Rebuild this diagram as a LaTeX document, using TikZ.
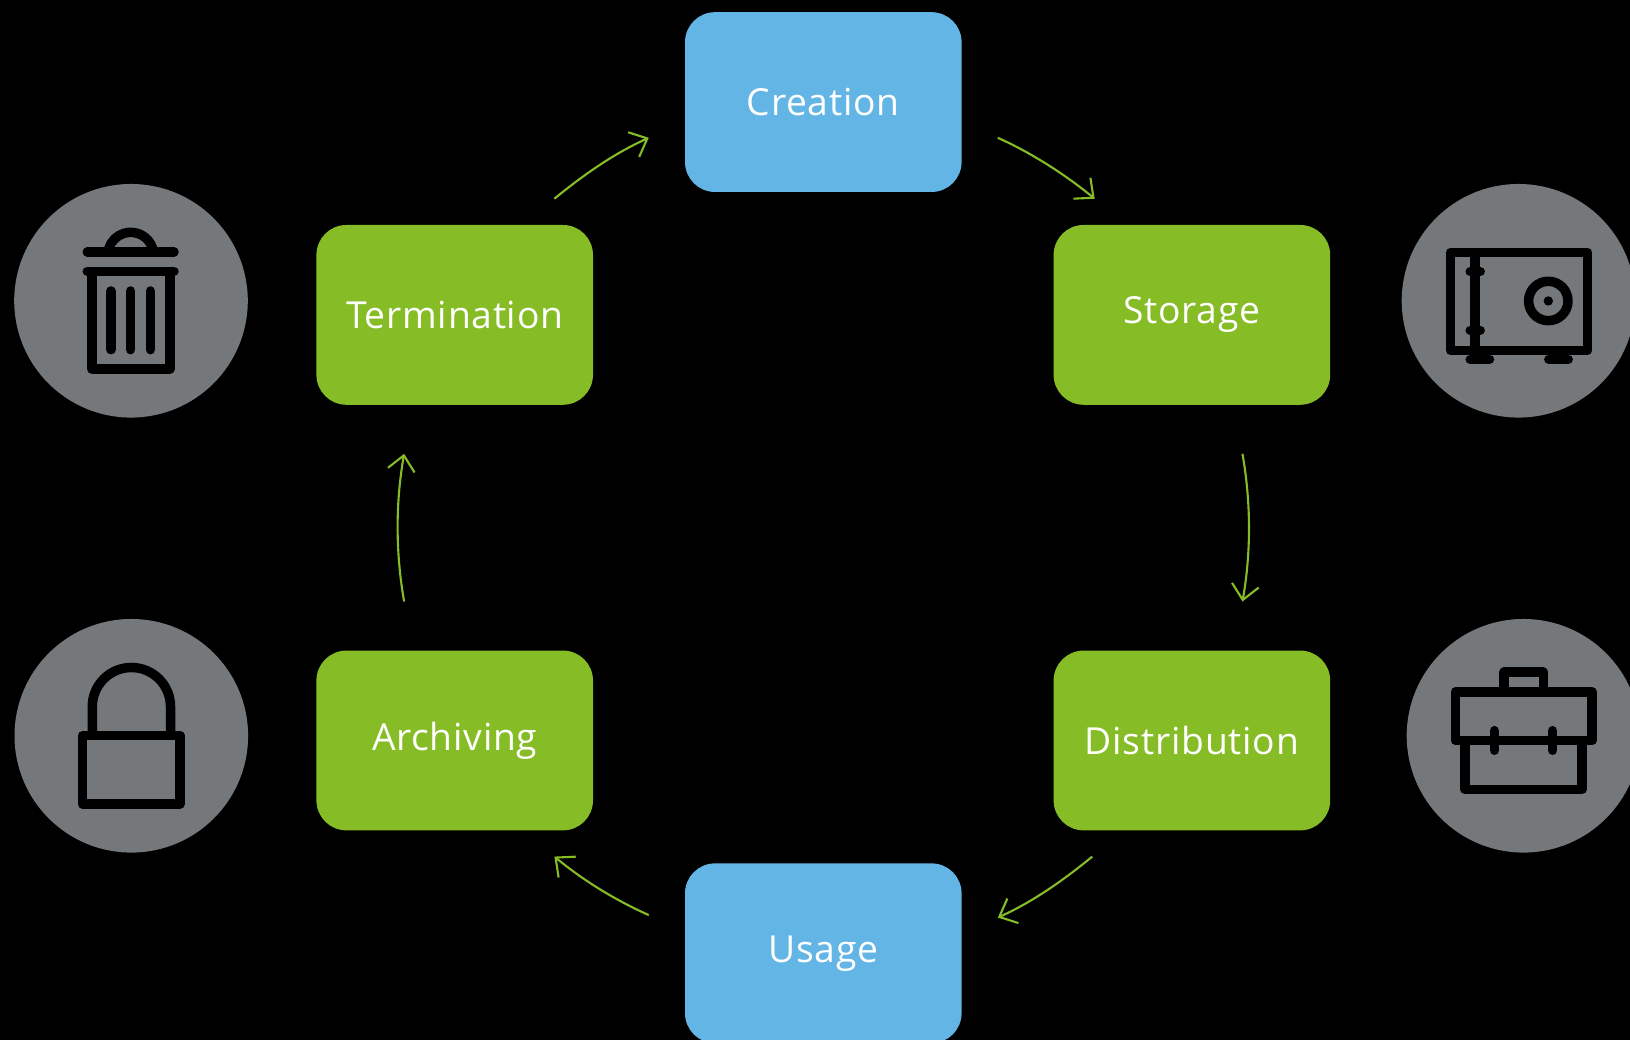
\documentclass[tikz,border=0pt]{standalone}
\usepackage{fontspec}
\setmainfont{Open Sans}[LetterSpace=2]
\usepackage{xcolor}
\usetikzlibrary{arrows.meta,positioning,shapes}
\definecolor{stagegreen}{HTML}{86BC25}
\definecolor{stageblue}{HTML}{62B5E5}
\definecolor{icongray}{HTML}{75787B}
\tikzset{
	stagebox/.style={rectangle, rounded corners=0.3cm, minimum width=2.766cm, minimum height=1.798cm, inner sep=0pt, outer sep=0pt, text=white, font=\fontsize{10.6}{13}\selectfont},
	greenbox/.style={stagebox, fill=stagegreen},
	bluebox/.style={stagebox, fill=stageblue},
	iconback/.style={circle, fill=icongray, minimum size=2.336cm, inner sep=0pt, outer sep=0pt},
	iconline/.style={draw=black, line width=0.095cm, line join=round},
	iconbar/.style={iconline, line cap=round},
	flow/.style={draw=stagegreen, line width=0.6pt, -{Straight Barb[length=0.15cm, width=0.27cm]}},
}

\begin{document}
\begin{tikzpicture}
	\useasboundingbox (0, 0) rectangle (16.3, 10.4);
	\fill[black] (0, 0) rectangle (16.3, 10.4);

	\node[bluebox] (creation) at (8.233, 9.379) {Creation};
	\node[greenbox] (storage) at (11.919, 7.251) {Storage};
	\node[greenbox] (distribution) at (11.919, 2.995) {Distribution};
	\node[bluebox] (usage) at (8.233, 0.867) {Usage};
	\node[greenbox] (archiving) at (4.547, 2.995) {Archiving};
	\node[greenbox] (termination) at (4.547, 7.251) {Termination};

	\draw[flow, shorten <=0.397cm, shorten >=0.413cm] (creation.-8.7) to[out=-24.2, in=140.6, out distance=0.774cm, in distance=0.79cm] (storage.126.5);
	\draw[flow, shorten <=0.498cm, shorten >=0.498cm] (storage.-65) to[out=-80, in=80, out distance=0.994cm, in distance=0.994cm] (distribution.65);
	\draw[flow, shorten <=0.413cm, shorten >=0.397cm] (distribution.233.5) to[out=219.4, in=24.2, out distance=0.79cm, in distance=0.774cm] (usage.8.7);
	\draw[flow, shorten <=0.397cm, shorten >=0.413cm] (usage.171.3) to[out=155.8, in=320.6, out distance=0.774cm, in distance=0.79cm] (archiving.-53.5);
	\draw[flow, shorten <=0.498cm, shorten >=0.498cm] (archiving.115) to[out=100, in=260, out distance=0.994cm, in distance=0.994cm] (termination.245);
	\draw[flow, shorten <=0.413cm, shorten >=0.397cm] (termination.53.5) to[out=39.4, in=204.2, out distance=0.79cm, in distance=0.774cm] (creation.188.7);

	\node[iconback] (trashback) at (1.31, 7.392) {};
	\draw[iconbar] (0.873, 7.88) -- (1.74, 7.88);
	\draw[iconbar] (0.873, 7.687) -- (1.74, 7.687);
	\draw[iconline] (1.527, 7.914) arc (17:163:0.23);
	\draw[iconline] (0.918, 7.687) -- (0.918, 6.71) -- (1.698, 6.71) -- (1.698, 7.687);
	\foreach \slotx in {1.11, 1.307, 1.503}
		\draw[iconbar] (\slotx, 7.49) -- (\slotx, 6.903);

	\node[iconback] (safeback) at (15.185, 7.392) {};
	\draw[iconline] (14.505, 6.897) rectangle (15.877, 7.875);
	\draw[iconline] (14.752, 7.875) -- (14.752, 6.897);
	\draw[iconbar] (14.702, 7.683) -- (14.802, 7.683);
	\draw[iconbar] (14.702, 7.097) -- (14.802, 7.097);
	\draw[iconline] (15.483, 7.39) circle (0.197);
	\fill[black] (15.483, 7.39) circle (0.047);
	\draw[iconbar] (14.702, 6.807) -- (14.895, 6.807);
	\draw[iconbar] (15.488, 6.807) -- (15.682, 6.807);

	\node[iconback] (lockback) at (1.313, 3.042) {};
	\draw[iconline] (0.823, 2.36) rectangle (1.8, 3.043);
	\draw[iconline] (0.923, 3.043) -- (0.923, 3.334) arc (180:0:0.391) -- (1.705, 3.043);

	\node[iconback] (caseback) at (15.235, 3.042) {};
	\draw[iconline] (15.042, 3.482) -- (15.042, 3.678) -- (15.433, 3.678) -- (15.433, 3.482);
	\draw[iconline] (14.555, 2.995) rectangle (15.922, 3.482);
	\draw[iconline] (14.65, 2.995) -- (14.65, 2.505) -- (15.82, 2.505) -- (15.82, 2.995);
	\draw[iconbar] (14.943, 3.093) -- (14.943, 2.897);
	\draw[iconbar] (15.527, 3.093) -- (15.527, 2.897);
\end{tikzpicture}
\end{document}
